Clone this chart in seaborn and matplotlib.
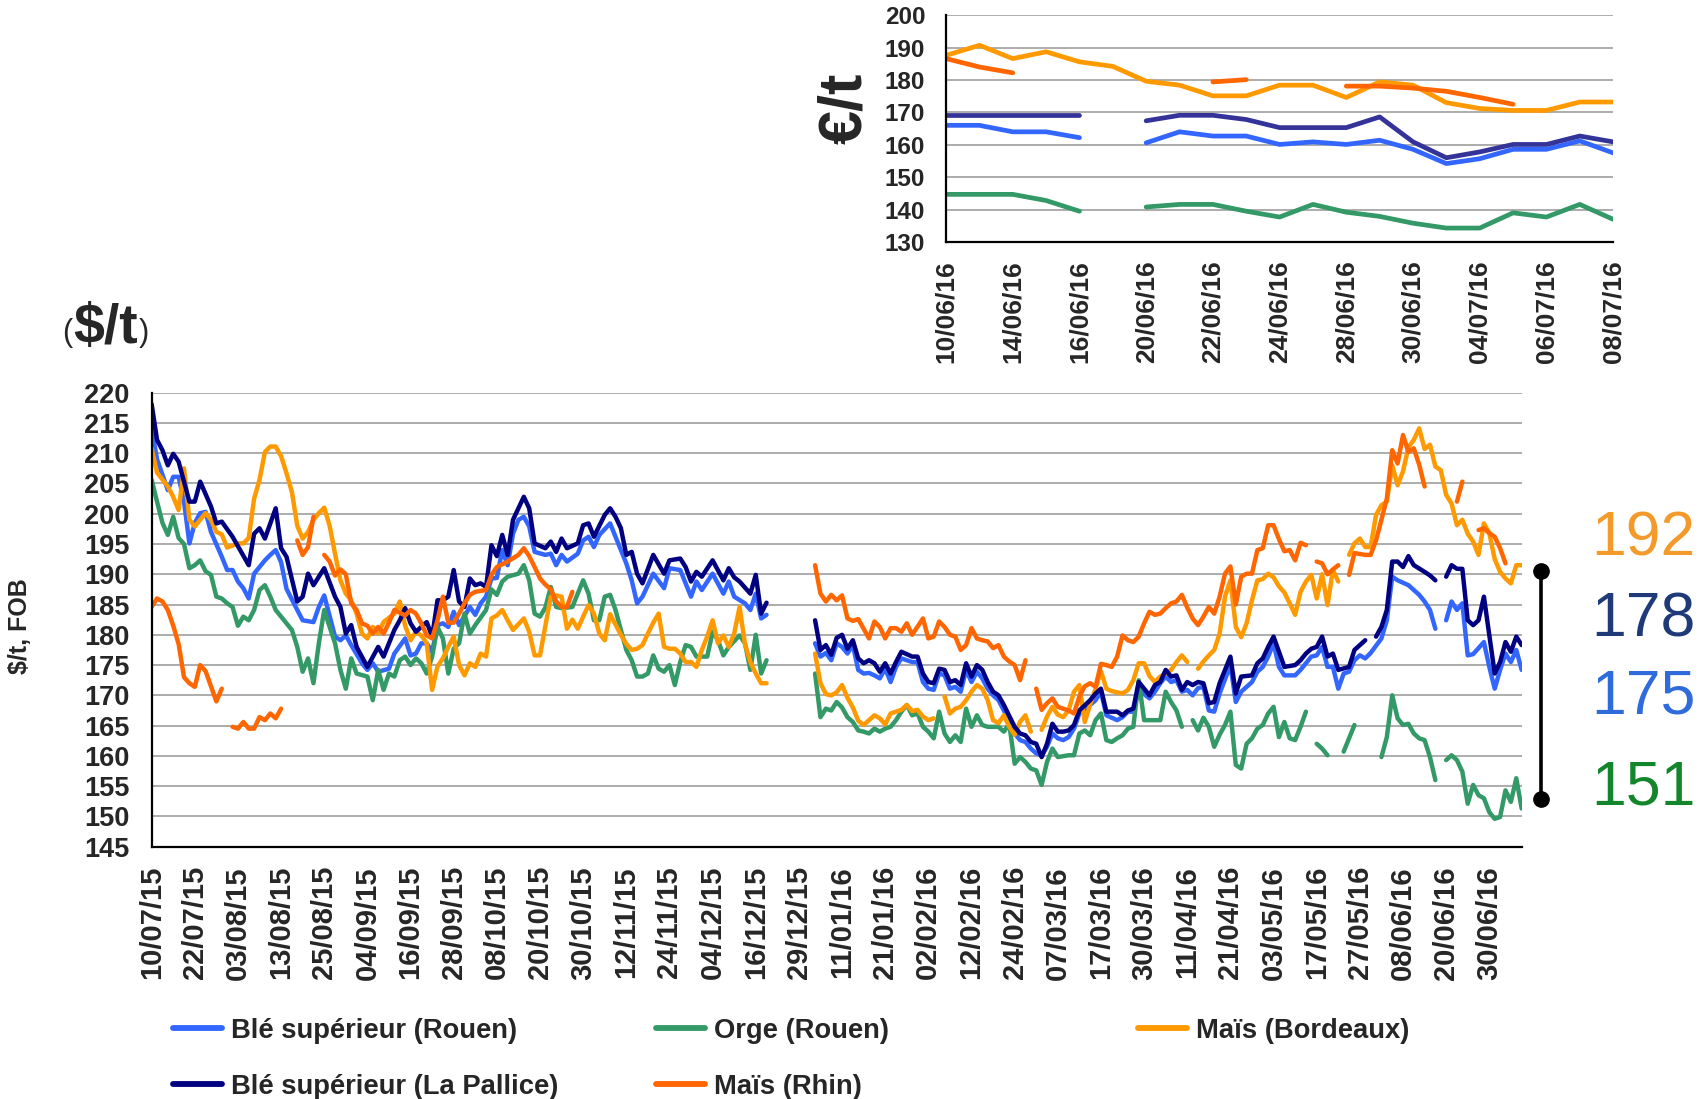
import numpy as np
import pandas as pd
import matplotlib
matplotlib.use("Agg")
import matplotlib.pyplot as plt
import seaborn as sns
from matplotlib.lines import Line2D

# ---------------- data ----------------
MAIN_TICK_LABELS = ["10/07/15", "22/07/15", "03/08/15", "13/08/15", "25/08/15", "04/09/15",
                    "16/09/15", "28/09/15", "08/10/15", "20/10/15", "30/10/15", "12/11/15",
                    "24/11/15", "04/12/15", "16/12/15", "29/12/15", "11/01/16", "21/01/16",
                    "02/02/16", "12/02/16", "24/02/16", "07/03/16", "17/03/16", "30/03/16",
                    "11/04/16", "21/04/16", "03/05/16", "17/05/16", "27/05/16", "08/06/16",
                    "20/06/16", "30/06/16"]
TICK_EVERY = 8  # business days between tick labels

# (business-day index, $/t); None = no quotation (line break)
BLE_ROUEN = [
    (0, 214.1), (1, 209.0), (3, 203.9), (4, 206.1), (5, 206.1), (6, 202.0), (7, 195.1), (8, 198.5),
    (9, 200.1), (10, 200.3), (11, 197.0), (13, 192.9), (14, 190.7), (15, 190.7), (16, 188.8),
    (17, 187.7), (18, 186.0), (19, 190.1), (21, 192.3), (22, 193.2), (23, 194.0), (24, 192.0),
    (25, 187.6), (27, 184.1), (28, 182.4), (30, 182.1), (31, 184.6), (32, 186.5), (34, 179.7),
    (35, 179.1), (36, 179.9), (37, 178.3), (39, 175.3), (40, 174.2), (41, 175.3), (42, 173.9),
    (44, 174.4), (45, 176.9), (47, 179.4), (48, 176.6), (49, 176.9), (50, 178.6), (51, 178.6),
    (52, 177.2), (53, 181.6), (54, 181.9), (55, 181.3), (56, 183.8), (57, 181.6), (59, 184.6),
    (60, 183.3), (61, 185.2), (62, 186.3), (63, 189.3), (64, 189.4), (65, 194.0), (66, 191.5),
    (67, 196.7), (68, 199.0), (69, 199.5), (70, 197.9), (71, 193.7), (73, 193.2), (74, 193.4),
    (75, 191.5), (76, 193.2), (77, 192.1), (79, 193.4), (80, 195.6), (81, 196.2), (82, 194.5),
    (83, 196.5), (85, 198.4), (86, 196.2), (88, 191.8), (89, 189.0), (90, 185.2), (91, 186.3),
    (93, 190.1), (95, 187.7), (96, 191.0), (98, 190.7), (99, 188.5), (100, 186.3), (101, 188.8),
    (102, 187.4), (104, 190.1), (106, 186.8), (107, 188.8), (108, 186.3), (110, 185.2),
    (111, 184.1), (112, 186.8), (113, 182.7), (114, 183.3),
    None,
    (123, 178.6), (124, 176.4), (125, 177.0), (126, 175.8), (127, 178.6), (128, 178.0),
    (129, 176.9), (130, 178.3), (131, 174.2), (132, 173.6), (133, 173.7), (134, 173.3),
    (135, 172.8), (136, 174.4), (137, 172.2), (138, 174.7), (139, 176.1), (141, 175.5),
    (142, 175.5), (143, 172.2), (144, 171.1), (145, 170.9), (146, 173.6), (147, 173.3),
    (148, 171.1), (149, 171.4), (150, 170.6), (151, 174.2), (152, 172.2), (153, 173.9),
    (154, 172.8), (155, 171.1), (156, 170.0), (157, 169.2), (158, 167.5), (160, 163.7),
    (161, 162.6), (162, 162.3), (163, 161.2), (164, 160.4), (165, 160.1), (166, 161.5),
    (167, 163.7), (168, 162.9), (169, 162.6), (170, 163.1), (171, 164.5), (172, 167.0),
    (174, 168.4), (175, 169.2), (176, 170.6), (177, 166.7), (179, 165.9), (180, 166.4),
    (181, 167.3), (182, 167.3), (183, 170.9), (185, 169.5), (186, 170.6), (187, 172.0),
    (188, 173.1), (189, 172.2), (190, 172.5), (191, 170.6), (192, 170.9), (193, 170.0),
    (194, 171.2), (195, 171.4), (196, 167.5), (197, 167.3), (198, 170.3), (200, 175.0),
    (201, 168.9), (202, 170.6), (204, 172.2), (205, 173.9), (206, 174.7), (207, 176.4),
    (208, 178.6), (209, 174.7), (210, 173.3), (212, 173.3), (213, 174.2), (214, 175.3),
    (215, 176.4), (216, 176.6), (217, 178.0), (218, 174.7), (219, 174.7), (220, 171.1),
    (221, 173.6), (222, 173.9), (223, 175.8), (224, 176.6), (225, 176.1), (226, 177.0),
    (228, 179.4), (229, 182.4), (230, 189.6), (231, 189.0), (233, 188.2), (234, 187.4),
    (235, 186.6), (236, 185.5), (237, 184.1), (238, 181.0),
    None,
    (240, 182.4), (241, 185.5), (242, 184.1), (243, 185.2), (244, 176.6), (245, 176.8),
    (247, 178.8), (248, 174.7), (249, 171.1), (250, 174.2), (251, 176.9), (252, 175.5),
    (253, 177.5), (254, 174.2)]

BLE_LA_PALLICE = [
    (0, 218.1), (1, 212.2), (2, 210.5), (3, 208.0), (4, 209.9), (5, 208.6), (7, 202.0), (8, 202.0),
    (9, 205.3), (11, 201.2), (12, 198.4), (13, 198.7), (15, 196.2), (18, 191.5), (19, 196.7),
    (20, 197.6), (21, 195.9), (23, 200.9), (24, 194.3), (25, 192.9), (27, 185.5), (28, 186.3),
    (29, 190.1), (30, 188.2), (32, 191.0), (34, 186.3), (35, 184.6), (36, 180.2), (37, 181.6),
    (38, 178.0), (40, 174.7), (42, 178.0), (43, 176.4), (45, 180.8), (46, 182.4), (47, 184.4),
    (48, 181.9), (49, 180.5), (51, 182.1), (52, 179.7), (53, 185.7), (54, 185.7), (55, 186.3),
    (56, 190.7), (57, 185.5), (58, 184.6), (59, 189.3), (60, 188.2), (61, 188.5), (62, 187.9),
    (63, 194.8), (64, 193.0), (65, 196.5), (66, 193.2), (67, 199.0), (69, 202.8), (70, 200.9),
    (71, 195.1), (73, 194.3), (74, 195.4), (75, 193.7), (76, 195.9), (77, 194.3), (79, 195.1),
    (80, 198.1), (81, 198.4), (82, 196.2), (84, 199.8), (85, 200.9), (86, 199.5), (87, 197.6),
    (88, 193.2), (89, 193.7), (90, 190.1), (91, 188.5), (93, 193.2), (95, 190.1), (96, 192.3),
    (98, 192.6), (99, 191.2), (100, 188.8), (101, 190.4), (102, 189.6), (104, 192.3),
    (106, 189.0), (107, 191.0), (108, 189.5), (109, 188.8), (111, 186.8), (112, 189.9),
    (113, 183.5), (114, 185.3),
    None,
    (123, 182.4), (124, 177.5), (125, 178.3), (126, 176.7), (127, 179.5), (128, 180.0),
    (129, 177.7), (130, 179.1), (131, 176.1), (132, 175.3), (133, 175.8), (134, 175.3),
    (135, 173.9), (136, 175.3), (137, 173.6), (138, 175.5), (139, 177.2), (141, 176.4),
    (142, 176.4), (143, 173.6), (144, 172.2), (145, 172.0), (146, 174.4), (147, 174.2),
    (148, 172.2), (149, 172.5), (150, 171.7), (151, 175.3), (152, 173.1), (153, 175.0),
    (154, 174.2), (155, 172.2), (156, 170.6), (157, 170.0), (158, 168.4), (160, 164.8),
    (161, 163.7), (162, 163.4), (163, 162.3), (164, 162.0), (165, 159.8), (166, 162.0),
    (167, 165.3), (168, 164.0), (169, 164.0), (170, 164.2), (171, 165.1), (172, 167.5),
    (174, 169.2), (175, 170.3), (176, 171.1), (177, 167.3), (179, 167.3), (180, 166.7),
    (181, 167.5), (182, 167.8), (183, 172.2), (185, 170.0), (186, 171.7), (187, 172.2),
    (188, 174.2), (189, 173.1), (190, 173.3), (191, 170.9), (192, 172.2), (193, 171.7),
    (194, 172.2), (195, 172.0), (196, 168.7), (197, 168.9), (198, 172.0), (200, 176.4),
    (201, 170.3), (202, 173.1), (204, 173.3), (205, 175.3), (206, 176.1), (207, 178.0),
    (208, 179.7), (209, 177.2), (210, 174.7), (212, 175.0), (213, 175.8), (214, 176.9),
    (215, 177.7), (216, 178.0), (217, 179.7), (218, 176.4), (219, 176.9), (220, 174.2),
    (222, 174.7), (223, 177.5), (224, 178.3), (225, 179.1),
    None,
    (227, 179.7), (228, 181.3), (229, 184.1), (230, 192.1), (231, 192.1), (232, 191.2),
    (233, 193.0), (234, 191.5), (236, 190.4), (237, 189.8), (238, 189.0),
    None,
    (240, 189.6), (241, 191.5), (242, 190.9), (243, 190.9), (244, 182.4), (245, 181.6),
    (246, 182.4), (247, 186.3), (249, 173.6), (250, 175.5), (251, 178.8), (252, 177.2),
    (253, 179.7), (254, 178.3)]

ORGE_ROUEN = [
    (0, 205.6), (1, 202.0), (2, 198.5), (3, 196.5), (4, 199.5), (5, 196.0), (6, 195.0), (7, 191.0),
    (8, 191.5), (9, 192.3), (10, 190.5), (11, 189.9), (12, 186.3), (13, 186.0), (14, 185.2),
    (15, 184.6), (16, 181.5), (17, 183.0), (18, 182.4), (19, 184.1), (20, 187.4), (21, 188.2),
    (22, 186.3), (23, 184.1), (24, 183.0), (26, 180.8), (27, 178.0), (28, 173.9), (29, 176.1),
    (30, 172.0), (31, 178.6), (32, 184.1), (33, 181.3), (34, 178.6), (35, 174.2), (36, 171.1),
    (37, 176.1), (38, 173.6), (40, 173.1), (41, 169.2), (42, 174.2), (43, 170.9), (44, 173.6),
    (45, 173.1), (46, 175.8), (47, 176.4), (48, 175.0), (49, 176.1), (50, 175.3), (51, 173.6),
    (52, 176.4), (53, 181.3), (54, 179.4), (55, 173.6), (56, 177.7), (57, 178.6), (58, 183.5),
    (59, 180.2), (60, 181.6), (62, 184.1), (63, 187.5), (64, 186.6), (65, 188.8), (66, 189.6),
    (68, 190.1), (69, 191.5), (70, 189.0), (71, 183.5), (72, 183.0), (73, 184.5), (74, 187.9),
    (75, 184.6), (76, 184.4), (78, 184.6), (79, 186.8), (80, 189.0), (81, 186.8), (82, 182.4),
    (83, 182.4), (84, 186.3), (85, 186.6), (86, 184.1), (87, 180.8), (88, 177.5), (89, 175.8),
    (90, 173.1), (91, 173.1), (92, 173.6), (93, 176.6), (94, 174.4), (95, 173.9), (96, 175.0),
    (97, 171.7), (98, 175.5), (99, 178.3), (100, 178.0), (101, 176.4), (103, 176.4),
    (104, 180.5), (105, 179.1), (106, 176.6), (107, 178.0), (109, 179.9), (110, 178.6),
    (111, 174.2), (112, 180.0), (113, 173.6), (114, 175.8),
    None,
    (123, 173.6), (124, 166.4), (125, 167.8), (126, 167.5), (127, 168.9), (128, 168.0),
    (129, 166.4), (130, 165.6), (131, 164.2), (132, 164.0), (133, 163.7), (134, 164.5),
    (135, 164.0), (136, 164.5), (137, 164.8), (138, 165.9), (139, 167.3), (140, 168.4),
    (141, 166.7), (142, 167.0), (143, 164.8), (144, 164.0), (145, 162.9), (146, 167.3),
    (147, 163.7), (148, 162.3), (149, 163.4), (150, 162.3), (151, 167.8), (152, 164.8),
    (153, 166.7), (154, 165.1), (155, 164.8), (157, 164.8), (158, 164.0), (159, 165.3),
    (160, 158.7), (161, 159.8), (162, 159.0), (163, 157.9), (164, 157.6), (165, 155.2),
    (166, 159.0), (167, 161.2), (168, 159.8), (170, 160.1), (171, 160.1), (172, 163.7),
    (173, 164.2), (174, 163.4), (175, 165.9), (176, 167.0), (177, 162.6), (178, 162.3),
    (179, 162.9), (180, 163.4), (181, 164.5), (182, 164.8), (183, 172.5), (184, 165.9),
    (187, 165.9), (188, 170.6), (189, 168.9), (190, 167.5), (191, 164.8),
    None,
    (193, 165.9), (194, 164.2), (195, 166.3), (196, 164.8), (197, 161.5), (198, 163.5),
    (199, 165.1), (200, 167.3), (201, 158.5), (202, 157.9), (203, 162.0), (204, 162.9),
    (205, 164.5), (206, 165.1), (207, 167.0), (208, 168.1), (209, 163.1), (210, 165.6),
    (211, 162.9), (212, 162.6), (213, 164.8), (214, 167.3),
    None,
    (216, 162.0), (217, 161.2), (218, 160.1),
    None,
    (221, 160.7), (223, 165.1),
    None,
    (228, 159.8), (229, 163.1), (230, 170.0), (231, 166.2), (232, 165.1), (233, 165.3),
    (234, 163.7), (235, 162.9), (236, 162.6), (237, 159.8), (238, 156.0),
    None,
    (240, 159.3), (241, 160.1), (242, 159.3), (243, 157.4), (244, 152.1), (245, 155.2),
    (246, 153.5), (247, 153.0), (248, 150.7), (249, 149.6), (250, 149.9), (251, 154.3),
    (252, 152.4), (253, 156.3), (254, 151.3)]

MAIS_BORDEAUX = [
    (0, 210.8), (1, 206.8), (3, 204.5), (4, 202.8), (5, 200.6), (6, 207.5), (7, 199.0), (8, 197.9),
    (9, 199.0), (10, 200.1), (11, 199.0), (12, 197.0), (13, 196.6), (14, 194.4), (16, 195.1),
    (17, 195.1), (18, 196.0), (19, 202.5), (20, 205.6), (21, 210.2), (22, 211.1), (23, 211.1),
    (24, 209.5), (25, 206.7), (26, 203.6), (27, 198.0), (28, 195.9), (29, 197.0), (30, 199.0),
    (31, 200.1), (32, 201.0), (33, 198.0), (34, 193.4), (35, 189.0), (36, 186.8), (37, 185.7),
    (38, 183.5), (39, 180.2), (40, 179.4), (41, 181.3), (42, 180.2), (43, 182.1), (45, 183.5),
    (46, 185.5), (47, 181.5), (48, 179.1), (49, 180.5), (50, 179.9), (51, 178.6), (52, 170.9),
    (53, 174.8), (54, 176.1), (55, 178.0), (56, 179.7), (57, 175.0), (58, 173.3), (59, 175.3),
    (60, 174.7), (61, 176.9), (62, 176.4), (63, 182.7), (64, 183.2), (65, 184.1), (66, 182.4),
    (67, 180.8), (69, 182.7), (70, 180.5), (71, 176.6), (72, 176.6), (73, 181.5), (74, 186.3),
    (75, 186.5), (76, 186.3), (77, 181.0), (78, 182.5), (79, 181.0), (80, 183.0), (81, 184.9),
    (82, 183.5), (83, 180.2), (84, 179.1), (85, 183.4), (87, 180.0), (88, 178.5), (89, 177.5),
    (90, 177.7), (91, 178.3), (92, 180.2), (93, 182.0), (94, 183.5), (95, 178.0), (96, 177.7),
    (97, 177.7), (98, 176.9), (99, 175.5), (100, 175.5), (101, 174.7), (102, 177.5),
    (103, 179.7), (104, 182.4), (105, 178.6), (106, 179.9), (107, 178.0), (108, 180.2),
    (109, 184.6), (110, 178.5), (111, 175.5), (112, 173.6), (113, 172.0), (114, 172.0),
    None,
    (123, 176.9), (124, 172.0), (125, 170.2), (126, 170.0), (127, 170.5), (128, 171.7),
    (129, 169.6), (130, 168.0), (131, 165.8), (132, 165.1), (133, 165.9), (134, 166.7),
    (135, 166.2), (136, 165.2), (137, 167.0), (138, 167.3), (139, 167.6), (140, 168.4),
    (141, 167.4), (142, 167.6), (143, 166.5), (144, 165.9), (145, 166.2),
    None,
    (147, 169.8), (148, 167.0), (149, 167.8), (150, 168.1), (151, 169.2), (152, 170.6),
    (153, 171.7), (154, 171.1), (155, 169.2), (156, 165.9), (157, 165.4), (158, 166.7),
    (159, 164.8), (160, 163.5), (161, 165.6), (162, 166.7), (163, 164.0),
    None,
    (165, 164.3), (166, 166.5), (167, 168.1), (168, 166.8), (169, 166.4), (170, 167.5),
    (171, 170.6), (172, 171.7), (173, 165.6), (174, 168.5), (175, 171.1), (176, 174.0),
    (177, 171.1), (178, 170.7), (179, 170.5), (180, 170.3), (181, 170.9), (182, 172.5),
    (183, 175.3), (184, 175.3), (185, 173.2), (186, 172.2), (187, 173.1), (188, 173.6),
    (189, 174.2), (190, 175.5), (191, 176.6), (192, 175.5),
    None,
    (194, 174.4), (195, 175.6), (196, 176.6), (197, 177.5), (198, 180.2), (199, 186.3),
    (200, 189.0), (201, 181.3), (202, 179.6), (203, 181.9), (204, 185.7), (205, 189.0),
    (206, 189.2), (207, 190.1), (208, 189.5), (209, 188.0), (210, 187.0), (211, 185.2),
    (212, 183.3), (213, 187.1), (214, 188.8), (215, 189.9), (216, 186.0), (217, 190.0),
    (218, 184.9), (219, 190.7), (220, 188.8),
    None,
    (222, 193.2), (223, 195.1), (224, 195.9), (225, 194.5), (226, 194.5), (227, 199.8),
    (228, 201.4), (229, 202.0), (230, 208.0), (231, 204.7), (232, 207.0), (233, 211.0),
    (234, 212.2), (235, 214.1), (236, 210.7), (237, 211.4), (238, 207.8), (239, 207.2),
    (240, 203.1), (241, 201.7), (242, 198.1), (243, 199.0), (244, 196.7), (245, 195.4),
    (246, 193.2), (247, 198.4), (248, 196.8), (249, 192.5), (250, 190.4), (251, 189.3),
    (252, 188.5), (253, 191.5), (254, 191.5)]

MAIS_RHIN = [
    (0, 184.6), (1, 186.0), (2, 185.5), (3, 184.1), (4, 181.5), (5, 178.5), (6, 173.0), (7, 172.0),
    (8, 171.4), (9, 175.0), (10, 174.0), (11, 171.5), (12, 169.0), (13, 171.1),
    None,
    (15, 164.8), (16, 164.5), (17, 165.6), (18, 164.5), (19, 164.5), (20, 166.4), (21, 165.9),
    (22, 167.0), (23, 166.2), (24, 167.8),
    None,
    (27, 195.6), (28, 193.2), (29, 194.5), (30, 199.5),
    None,
    (32, 193.2), (33, 192.1), (34, 189.8), (35, 190.8), (36, 190.0), (37, 185.2), (38, 184.1),
    (39, 181.9), (40, 181.5), (41, 180.2), (42, 181.3), (43, 180.2), (44, 182.0), (45, 184.1),
    (47, 183.2), (48, 184.1), (49, 183.5), (50, 181.9), (51, 179.9), (52, 179.4), (53, 182.4),
    (54, 186.3), (55, 182.0), (56, 182.0), (57, 183.5), (58, 185.2), (59, 186.6), (60, 187.1),
    (62, 187.4), (63, 189.9), (64, 191.2), (66, 192.1), (68, 193.2), (69, 194.3), (70, 193.0),
    (71, 191.2), (72, 189.3), (73, 188.3), (74, 187.5), (75, 185.5), (76, 184.6), (77, 184.6),
    (78, 187.1),
    None,
    (123, 191.5), (124, 186.8), (125, 185.5), (126, 186.6), (127, 185.7), (128, 186.5),
    (129, 182.7), (130, 182.3), (131, 182.6), (132, 181.0), (133, 179.4), (134, 182.2),
    (135, 181.3), (136, 179.4), (137, 181.1), (138, 181.1), (139, 180.5), (140, 181.9),
    (141, 180.0), (143, 182.7), (144, 179.4), (145, 179.7), (146, 182.2), (147, 181.3),
    (148, 180.0), (149, 179.7), (150, 177.5), (151, 178.3), (152, 181.1), (153, 179.4),
    (154, 179.1), (155, 178.9), (156, 177.8), (157, 178.3), (158, 176.4), (159, 175.6),
    (160, 175.0), (161, 172.5), (162, 175.8),
    None,
    (164, 171.1), (165, 167.6), (166, 168.7), (167, 169.5), (168, 168.1), (169, 167.8),
    (170, 167.5), (171, 167.0), (172, 169.8), (173, 171.5), (174, 172.0), (175, 171.4),
    (176, 175.2), (177, 175.0), (178, 174.7), (179, 176.4), (180, 179.9), (181, 179.1),
    (182, 178.8), (183, 179.7), (184, 181.9), (185, 183.8), (186, 183.3), (187, 183.5),
    (188, 184.4), (189, 185.2), (190, 185.5), (191, 186.6), (192, 184.5), (193, 182.7),
    (194, 181.6), (195, 183.0), (196, 184.6), (197, 183.5), (198, 186.3), (199, 190.1),
    (200, 191.3), (201, 185.0), (202, 189.6), (203, 190.1), (204, 190.1), (205, 194.0),
    (206, 194.3), (207, 198.1), (208, 198.1), (209, 195.8), (210, 193.8), (211, 194.0),
    (212, 192.3), (213, 195.2), (214, 194.8),
    None,
    (216, 192.1), (217, 191.8), (218, 190.0), (219, 190.8), (220, 191.5),
    None,
    (222, 189.9), (223, 193.5), (225, 193.2), (226, 193.2), (227, 195.6), (228, 199.0),
    (229, 202.5), (230, 210.5), (231, 208.3), (232, 213.0), (233, 210.2), (234, 210.8),
    (235, 208.1), (236, 204.5),
    None,
    (242, 202.0), (243, 205.3),
    None,
    (246, 197.3), (247, 197.6), (248, 196.8), (249, 196.2), (250, 194.3), (251, 191.8)]

# inset (EUR/t), one value per business day 10/06/16 .. 08/07/16
INSET_LABELS = ["10/06/16", "14/06/16", "16/06/16", "20/06/16", "22/06/16", "24/06/16",
                "28/06/16", "30/06/16", "04/07/16", "06/07/16", "08/07/16"]
INSET_BLE_ROUEN = [166.0, 166.0, 164.0, 164.0, 162.2, None, 160.6, 164.0, 162.7, 162.7, 160.1,
                   160.9, 160.1, 161.4, 158.6, 154.2, 155.7, 158.6, 158.6, 161.2, 157.5]
INSET_BLE_LP = [169.1, 169.1, 169.1, 169.1, 169.1, None, 167.4, 169.1, 169.1, 167.8, 165.3,
                165.3, 165.3, 168.6, 160.9, 156.0, 157.8, 160.1, 160.1, 162.7, 160.9]
INSET_ORGE = [144.7, 144.7, 144.7, 142.8, 139.5, None, 140.8, 141.6, 141.6, 139.5, 137.7,
              141.6, 139.2, 137.9, 135.8, 134.3, 134.3, 139.0, 137.7, 141.6, 137.0]
INSET_BORDEAUX = [187.6, 190.7, 186.6, 188.7, 185.6, 184.2, 179.6, 178.4, 175.1, 175.1, 178.4,
                  178.4, 174.6, 179.4, 178.4, 173.0, 171.2, 170.6, 170.6, 173.2, 173.2]
INSET_RHIN = [186.6, 184.0, 182.2, None, None, None, None, None, 179.4, 180.1, None,
              None, 178.1, 178.1, 177.5, 176.5, 174.6, 172.5, None, None, None]

LATEST = [("192", "#F39A2B"), ("178", "#1F3A78"), ("175", "#2F6BDB"), ("151", "#13862B")]

NAMES = ["Blé supérieur (Rouen)", "Orge (Rouen)", "Maïs (Bordeaux)",
         "Blé supérieur (La Pallice)", "Maïs (Rhin)"]
COLORS = {"Blé supérieur (Rouen)": "#3366FF", "Orge (Rouen)": "#339966",
          "Maïs (Bordeaux)": "#FF9900", "Blé supérieur (La Pallice)": "#000080",
          "Maïs (Rhin)": "#FF6600"}
INSET_COLORS = dict(COLORS)
INSET_COLORS["Blé supérieur (La Pallice)"] = "#333399"


# ---------------- helpers ----------------
def frame_from_pairs(points, name):
    rows, seg = [], 0
    for p in points:
        if p is None:
            seg += 1
            continue
        rows.append({"day": p[0], "price": p[1], "seg": seg, "series": name})
    return pd.DataFrame(rows)


def frame_from_values(values, name):
    rows, seg = [], 0
    for i, v in enumerate(values):
        if v is None:
            seg += 1
            continue
        rows.append({"day": i, "price": v, "seg": seg, "series": name})
    return pd.DataFrame(rows)


sns.set_style("white")
plt.rcParams["font.family"] = ["Liberation Sans", "DejaVu Sans"]

fig = plt.figure(figsize=(17, 10.99), dpi=100)

# ---------------- main chart ----------------
ax = fig.add_axes([0.0892, 0.2296, 0.8059, 0.4131])
main_series = {"Blé supérieur (Rouen)": BLE_ROUEN, "Orge (Rouen)": ORGE_ROUEN,
               "Maïs (Bordeaux)": MAIS_BORDEAUX, "Blé supérieur (La Pallice)": BLE_LA_PALLICE,
               "Maïs (Rhin)": MAIS_RHIN}
for name in NAMES:
    df = frame_from_pairs(main_series[name], name)
    sns.lineplot(data=df, x="day", y="price", units="seg", estimator=None, ax=ax,
                 color=COLORS[name], linewidth=3.2, legend=False,
                 solid_joinstyle="round", solid_capstyle="round")

ax.set_xlim(0, 254)
ax.set_ylim(145, 220)
ax.set_yticks(np.arange(145, 221, 5))
ax.set_yticklabels([str(v) for v in range(145, 221, 5)], fontsize=19.5, fontweight="bold")
ax.set_xticks(np.arange(0, TICK_EVERY * len(MAIN_TICK_LABELS), TICK_EVERY))
ax.set_xticklabels(MAIN_TICK_LABELS, rotation=90, fontsize=21, fontweight="bold")
ax.set_xlabel("")
ax.set_ylabel("")
ax.yaxis.grid(True, color="#A6A6A6", linewidth=1.3)
ax.xaxis.grid(False)
ax.set_axisbelow(True)
for s in ["top", "right"]:
    ax.spines[s].set_visible(False)
for s in ["left", "bottom"]:
    ax.spines[s].set_color("black")
    ax.spines[s].set_linewidth(1.6)
ax.tick_params(axis="both", direction="in", length=6, width=1.5, color="black")
ax.tick_params(axis="x", pad=14)
ax.tick_params(axis="y", pad=16)

# range bar on the right
ax.plot([257.6, 257.6], [190.5, 152.8], color="black", linewidth=2.6, marker="o",
        markersize=11, clip_on=False)
for (txt, col), yf in zip(LATEST, [539, 620, 697, 788]):
    fig.text(1643 / 1700, 1 - yf / 1099, txt, color=col, fontsize=45,
             ha="center", va="center")

fig.text(20 / 1700, 1 - 626 / 1099, "\\$/t, FOB", rotation=90, fontsize=18,
         fontweight="bold", ha="center", va="center")
fig.text(106 / 1700, 1 - 329 / 1099, "\\$/t", fontsize=40, fontweight="bold",
         ha="center", va="center")
fig.text(67 / 1700, 1 - 333 / 1099, "(", fontsize=22, ha="center", va="center")
fig.text(144 / 1700, 1 - 333 / 1099, ")", fontsize=22, ha="center", va="center")

# ---------------- inset ----------------
ax2 = fig.add_axes([0.5565, 0.7798, 0.3924, 0.2064])
inset_series = {"Blé supérieur (Rouen)": INSET_BLE_ROUEN, "Orge (Rouen)": INSET_ORGE,
                "Maïs (Bordeaux)": INSET_BORDEAUX, "Blé supérieur (La Pallice)": INSET_BLE_LP,
                "Maïs (Rhin)": INSET_RHIN}
for name in NAMES:
    df = frame_from_values(inset_series[name], name)
    sns.lineplot(data=df, x="day", y="price", units="seg", estimator=None, ax=ax2,
                 color=INSET_COLORS[name], linewidth=3.4, legend=False,
                 solid_joinstyle="round", solid_capstyle="round")
ax2.set_xlim(0, 20)
ax2.set_ylim(130, 200)
ax2.set_yticks(np.arange(130, 201, 10))
ax2.set_yticklabels([str(v) for v in range(130, 201, 10)], fontsize=17.5, fontweight="bold")
ax2.set_xticks(np.arange(0, 21, 2))
ax2.set_xticklabels(INSET_LABELS, rotation=90, fontsize=19, fontweight="bold")
ax2.set_xlabel("")
ax2.set_ylabel("")
ax2.yaxis.grid(True, color="#A6A6A6", linewidth=1.3)
ax2.xaxis.grid(False)
ax2.set_axisbelow(True)
for s in ["top", "right"]:
    ax2.spines[s].set_visible(False)
for s in ["left", "bottom"]:
    ax2.spines[s].set_color("black")
    ax2.spines[s].set_linewidth(1.6)
ax2.tick_params(axis="both", direction="in", length=6, width=1.5, color="black")
ax2.tick_params(axis="x", pad=13)
ax2.tick_params(axis="y", pad=15)
fig.text(846 / 1700, 1 - 108 / 1099, "€/t", rotation=90, fontsize=44,
         fontweight="bold", ha="center", va="center")

# ---------------- legend (three columns) ----------------
columns = [(["Blé supérieur (Rouen)", "Blé supérieur (La Pallice)"], 173),
           (["Orge (Rouen)", "Maïs (Rhin)"], 656),
           (["Maïs (Bordeaux)"], 1138)]
for names, xpix in columns:
    handles = [Line2D([0], [0], color=COLORS[n], linewidth=4.2) for n in names]
    fig.legend(handles, names, loc="upper left", bbox_to_anchor=(xpix / 1700, 1 - 1018 / 1099),
               frameon=False, borderpad=0, borderaxespad=0, handlelength=1.8,
               handletextpad=0.32, labelspacing=1.08,
               prop={"weight": "bold", "size": 19.7})

fig.savefig("out.png", dpi=100)
